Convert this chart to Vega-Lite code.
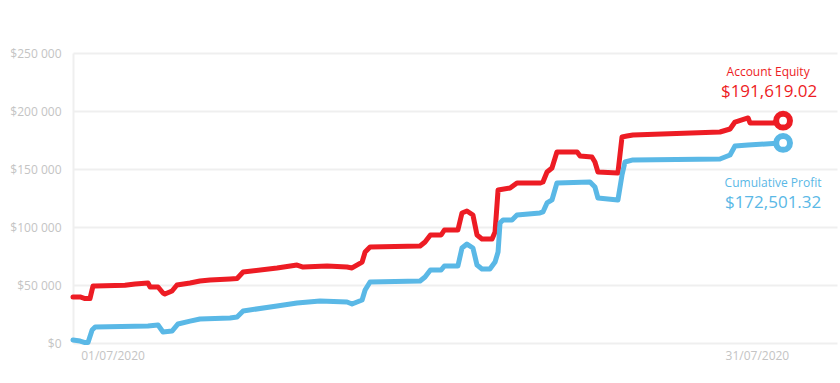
{
  "$schema": "https://vega.github.io/schema/vega-lite/v6.json",
  "width": 764,
  "height": 290,
  "autosize": {"type": "none"},
  "padding": {"left": 73, "top": 53, "right": 3, "bottom": 40},
  "background": "white",
  "config": {
    "view": {"stroke": null},
    "font": "Open Sans",
    "axis": {"labelFont": "Open Sans", "labelColor": "#c4c4c4", "labelFontSize": 12, "ticks": false, "title": null}
  },
  "data": {
    "values": [
      {"series": "Account Equity", "day": -0.84, "value": 39700},
      {"series": "Account Equity", "day": -0.51, "value": 39700},
      {"series": "Account Equity", "day": -0.28, "value": 38300},
      {"series": "Account Equity", "day": -0.05, "value": 38300},
      {"series": "Account Equity", "day": 0.09, "value": 49100},
      {"series": "Account Equity", "day": 0.19, "value": 49100},
      {"series": "Account Equity", "day": 1.58, "value": 49800},
      {"series": "Account Equity", "day": 2.05, "value": 50900},
      {"series": "Account Equity", "day": 2.65, "value": 51700},
      {"series": "Account Equity", "day": 2.75, "value": 48300},
      {"series": "Account Equity", "day": 3.12, "value": 48300},
      {"series": "Account Equity", "day": 3.35, "value": 43100},
      {"series": "Account Equity", "day": 3.44, "value": 42200},
      {"series": "Account Equity", "day": 3.77, "value": 44800},
      {"series": "Account Equity", "day": 4.0, "value": 50000},
      {"series": "Account Equity", "day": 4.61, "value": 51700},
      {"series": "Account Equity", "day": 5.07, "value": 53400},
      {"series": "Account Equity", "day": 5.54, "value": 54300},
      {"series": "Account Equity", "day": 6.47, "value": 55200},
      {"series": "Account Equity", "day": 6.8, "value": 55600},
      {"series": "Account Equity", "day": 7.08, "value": 61200},
      {"series": "Account Equity", "day": 8.66, "value": 64700},
      {"series": "Account Equity", "day": 9.59, "value": 67200},
      {"series": "Account Equity", "day": 9.87, "value": 65500},
      {"series": "Account Equity", "day": 10.99, "value": 66400},
      {"series": "Account Equity", "day": 11.92, "value": 65500},
      {"series": "Account Equity", "day": 12.15, "value": 64700},
      {"series": "Account Equity", "day": 12.62, "value": 69800},
      {"series": "Account Equity", "day": 12.76, "value": 78400},
      {"series": "Account Equity", "day": 12.99, "value": 82800},
      {"series": "Account Equity", "day": 15.32, "value": 83600},
      {"series": "Account Equity", "day": 15.55, "value": 87100},
      {"series": "Account Equity", "day": 15.8, "value": 93100},
      {"series": "Account Equity", "day": 16.3, "value": 93100},
      {"series": "Account Equity", "day": 16.45, "value": 97400},
      {"series": "Account Equity", "day": 17.08, "value": 97400},
      {"series": "Account Equity", "day": 17.27, "value": 112100},
      {"series": "Account Equity", "day": 17.5, "value": 113800},
      {"series": "Account Equity", "day": 17.78, "value": 110300},
      {"series": "Account Equity", "day": 17.97, "value": 93100},
      {"series": "Account Equity", "day": 18.2, "value": 89700},
      {"series": "Account Equity", "day": 18.67, "value": 89700},
      {"series": "Account Equity", "day": 18.81, "value": 95700},
      {"series": "Account Equity", "day": 18.95, "value": 131900},
      {"series": "Account Equity", "day": 19.51, "value": 133600},
      {"series": "Account Equity", "day": 19.83, "value": 137900},
      {"series": "Account Equity", "day": 20.9, "value": 137900},
      {"series": "Account Equity", "day": 21.04, "value": 138800},
      {"series": "Account Equity", "day": 21.23, "value": 147400},
      {"series": "Account Equity", "day": 21.46, "value": 150900},
      {"series": "Account Equity", "day": 21.69, "value": 164700},
      {"series": "Account Equity", "day": 22.63, "value": 164700},
      {"series": "Account Equity", "day": 22.77, "value": 161200},
      {"series": "Account Equity", "day": 23.32, "value": 160300},
      {"series": "Account Equity", "day": 23.46, "value": 156000},
      {"series": "Account Equity", "day": 23.6, "value": 147400},
      {"series": "Account Equity", "day": 24.53, "value": 146600},
      {"series": "Account Equity", "day": 24.72, "value": 177600},
      {"series": "Account Equity", "day": 24.95, "value": 178400},
      {"series": "Account Equity", "day": 25.23, "value": 179300},
      {"series": "Account Equity", "day": 29.28, "value": 181900},
      {"series": "Account Equity", "day": 29.75, "value": 184500},
      {"series": "Account Equity", "day": 29.98, "value": 190500},
      {"series": "Account Equity", "day": 30.59, "value": 194000},
      {"series": "Account Equity", "day": 30.68, "value": 189700},
      {"series": "Account Equity", "day": 31.75, "value": 189700},
      {"series": "Account Equity", "day": 32.22, "value": 191619.02},
      {"series": "Cumulative Profit", "day": -0.84, "value": 2600},
      {"series": "Cumulative Profit", "day": -0.51, "value": 1700},
      {"series": "Cumulative Profit", "day": -0.28, "value": 400},
      {"series": "Cumulative Profit", "day": -0.14, "value": 400},
      {"series": "Cumulative Profit", "day": 0.05, "value": 11200},
      {"series": "Cumulative Profit", "day": 0.19, "value": 13800},
      {"series": "Cumulative Profit", "day": 2.65, "value": 14700},
      {"series": "Cumulative Profit", "day": 3.12, "value": 15500},
      {"series": "Cumulative Profit", "day": 3.35, "value": 9500},
      {"series": "Cumulative Profit", "day": 3.77, "value": 10300},
      {"series": "Cumulative Profit", "day": 4.05, "value": 16400},
      {"series": "Cumulative Profit", "day": 4.61, "value": 18900},
      {"series": "Cumulative Profit", "day": 5.07, "value": 20700},
      {"series": "Cumulative Profit", "day": 6.47, "value": 21600},
      {"series": "Cumulative Profit", "day": 6.8, "value": 22400},
      {"series": "Cumulative Profit", "day": 7.08, "value": 27600},
      {"series": "Cumulative Profit", "day": 8.66, "value": 31900},
      {"series": "Cumulative Profit", "day": 9.59, "value": 34500},
      {"series": "Cumulative Profit", "day": 10.66, "value": 36200},
      {"series": "Cumulative Profit", "day": 11.92, "value": 35300},
      {"series": "Cumulative Profit", "day": 12.15, "value": 33600},
      {"series": "Cumulative Profit", "day": 12.62, "value": 37100},
      {"series": "Cumulative Profit", "day": 12.76, "value": 45700},
      {"series": "Cumulative Profit", "day": 12.99, "value": 52600},
      {"series": "Cumulative Profit", "day": 15.32, "value": 53400},
      {"series": "Cumulative Profit", "day": 15.55, "value": 56900},
      {"series": "Cumulative Profit", "day": 15.8, "value": 62900},
      {"series": "Cumulative Profit", "day": 16.3, "value": 62900},
      {"series": "Cumulative Profit", "day": 16.45, "value": 66400},
      {"series": "Cumulative Profit", "day": 17.08, "value": 66400},
      {"series": "Cumulative Profit", "day": 17.27, "value": 81900},
      {"series": "Cumulative Profit", "day": 17.5, "value": 85300},
      {"series": "Cumulative Profit", "day": 17.78, "value": 81900},
      {"series": "Cumulative Profit", "day": 17.97, "value": 67200},
      {"series": "Cumulative Profit", "day": 18.2, "value": 63800},
      {"series": "Cumulative Profit", "day": 18.57, "value": 63800},
      {"series": "Cumulative Profit", "day": 18.81, "value": 69800},
      {"series": "Cumulative Profit", "day": 18.95, "value": 78400},
      {"series": "Cumulative Profit", "day": 19.04, "value": 103400},
      {"series": "Cumulative Profit", "day": 19.18, "value": 106000},
      {"series": "Cumulative Profit", "day": 19.6, "value": 106000},
      {"series": "Cumulative Profit", "day": 19.83, "value": 110300},
      {"series": "Cumulative Profit", "day": 20.9, "value": 112100},
      {"series": "Cumulative Profit", "day": 21.04, "value": 113000},
      {"series": "Cumulative Profit", "day": 21.23, "value": 120700},
      {"series": "Cumulative Profit", "day": 21.46, "value": 123300},
      {"series": "Cumulative Profit", "day": 21.69, "value": 137900},
      {"series": "Cumulative Profit", "day": 23.23, "value": 138800},
      {"series": "Cumulative Profit", "day": 23.46, "value": 134500},
      {"series": "Cumulative Profit", "day": 23.6, "value": 125000},
      {"series": "Cumulative Profit", "day": 24.53, "value": 123300},
      {"series": "Cumulative Profit", "day": 24.72, "value": 144800},
      {"series": "Cumulative Profit", "day": 24.86, "value": 156000},
      {"series": "Cumulative Profit", "day": 25.23, "value": 157800},
      {"series": "Cumulative Profit", "day": 29.28, "value": 158600},
      {"series": "Cumulative Profit", "day": 29.75, "value": 162100},
      {"series": "Cumulative Profit", "day": 29.98, "value": 169800},
      {"series": "Cumulative Profit", "day": 30.59, "value": 170700},
      {"series": "Cumulative Profit", "day": 31.75, "value": 172000},
      {"series": "Cumulative Profit", "day": 32.22, "value": 172501.32}
    ]
  },
  "encoding": {
    "x": {
      "field": "day",
      "type": "quantitative",
      "scale": {"domain": [-0.84, 34.73], "nice": false, "zero": false},
      "axis": {
        "values": [1, 31],
        "labelExpr": "datum.value == 1 ? '01/07/2020' : '31/07/2020'",
        "grid": false,
        "domain": false,
        "labelPadding": 7,
        "labelFontSize": 12
      }
    },
    "y": {
      "field": "value",
      "type": "quantitative",
      "scale": {"domain": [0, 250000], "nice": false},
      "axis": {
        "values": [0, 50000, 100000, 150000, 200000, 250000],
        "labelExpr": "'$' + replace(format(datum.value, ','), ',', ' ')",
        "grid": true,
        "gridColor": "#efefef",
        "gridWidth": 2,
        "domain": true,
        "domainColor": "#efefef",
        "domainWidth": 2,
        "labelPadding": 12
      }
    },
    "color": {
      "field": "series",
      "type": "nominal",
      "scale": {"domain": ["Account Equity", "Cumulative Profit"], "range": ["#ED1C24", "#5AB8E6"]},
      "legend": null
    }
  },
  "layer": [
    {"mark": {"type": "line", "strokeWidth": 5, "strokeCap": "round", "strokeJoin": "round"}},
    {
      "transform": [{"filter": "datum.day >= 32.2"}],
      "mark": {"type": "point", "filled": false, "fill": "white", "strokeWidth": 6, "size": 190, "opacity": 1}
    },
    {
      "transform": [{"filter": "datum.day >= 32.2 && datum.series == 'Account Equity'"}],
      "mark": {"type": "text", "dx": -15, "dy": -45, "baseline": "alphabetic", "fontSize": 12, "font": "Open Sans"},
      "encoding": {"text": {"field": "series"}}
    },
    {
      "transform": [{"filter": "datum.day >= 32.2 && datum.series == 'Account Equity'"}],
      "mark": {"type": "text", "dx": -14, "dy": -24, "baseline": "alphabetic", "fontSize": 17, "font": "Open Sans"},
      "encoding": {"text": {"field": "value", "type": "quantitative", "format": "$,.2f"}}
    },
    {
      "transform": [{"filter": "datum.day >= 32.2 && datum.series == 'Cumulative Profit'"}],
      "mark": {"type": "text", "dx": -10, "dy": 44, "baseline": "alphabetic", "fontSize": 12, "font": "Open Sans"},
      "encoding": {"text": {"field": "series"}}
    },
    {
      "transform": [{"filter": "datum.day >= 32.2 && datum.series == 'Cumulative Profit'"}],
      "mark": {"type": "text", "dx": -10, "dy": 65, "baseline": "alphabetic", "fontSize": 17, "font": "Open Sans"},
      "encoding": {"text": {"field": "value", "type": "quantitative", "format": "$,.2f"}}
    }
  ]
}
